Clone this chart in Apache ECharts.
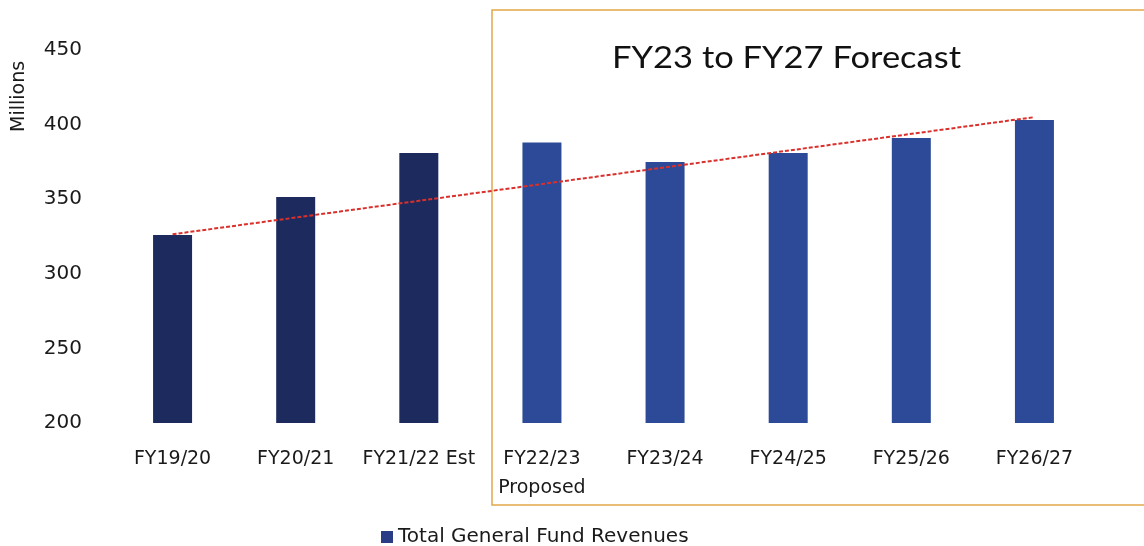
<!DOCTYPE html>
<html>
<head>
<meta charset="utf-8">
<script src="https://cdn.jsdelivr.net/npm/echarts@6/dist/echarts.min.js"></script>
<style>html,body{margin:0;padding:0;background:#fff}#c{width:1144px;height:546px}</style>
</head>
<body>
<div id="c"></div>
<script>
const categories = ['FY19/20', 'FY20/21', 'FY21/22 Est', 'FY22/23\nProposed', 'FY23/24', 'FY24/25', 'FY25/26', 'FY26/27'];
const revenues = [326, 351.5, 381, 388, 375, 381, 391, 403];
const isForecast = [false, false, false, true, true, true, true, true];
const trendValues = [326.5, null, null, null, null, null, null, 405];
const yTicks = { min: 200, max: 450, interval: 50 };
const seriesName = 'Total General Fund Revenues';
const boxTitle = 'FY23 to FY27 Forecast';
const yName = 'Millions';

const FONT = '"DejaVu Sans", "Open Sans", sans-serif';
const TITLE_FONT = 'Lato, "Open Sans", sans-serif';
const chart = echarts.init(document.getElementById('c'), null, { renderer: 'canvas' });
chart.setOption({
  backgroundColor: '#ffffff',
  animation: false,
  grid: { left: 111, right: 48, top: 50, bottom: 123 },
  legend: {
    left: 376, top: 522,
    icon: 'rect', itemWidth: 12, itemHeight: 12, itemGap: 5,
    textStyle: { fontFamily: FONT, fontSize: 20, color: '#1a1a1a' },
    data: [{ name: seriesName, itemStyle: { color: '#2a3c85' } }]
  },
  xAxis: {
    type: 'category', data: categories,
    axisLine: { show: false }, axisTick: { show: false },
    axisLabel: { fontFamily: FONT, fontSize: 19, color: '#1a1a1a', margin: 22, lineHeight: 29, interval: 0 }
  },
  yAxis: {
    type: 'value', min: yTicks.min, max: yTicks.max, interval: yTicks.interval,
    splitLine: { show: false }, axisLine: { show: false }, axisTick: { show: false },
    axisLabel: { fontFamily: FONT, fontSize: 20, color: '#1a1a1a', margin: 29 }
  },
  series: [
    {
      name: seriesName, type: 'bar', barWidth: 39,
      data: revenues.map((v, i) => ({ value: v, itemStyle: { color: isForecast[i] ? '#2c4a97' : '#1c2a5e' } })),
      z: 2
    },
    {
      name: 'trend', type: 'line', data: trendValues, connectNulls: true,
      symbol: 'none', lineStyle: { color: '#d9302c', width: 2, type: [4, 2] },
      z: 3, silent: true
    }
  ],
  graphic: [
    {
      type: 'rect', z: -1, silent: true,
      shape: { x: 492, y: 10, width: 700, height: 495 },
      style: { fill: 'none', stroke: '#e3a84a', lineWidth: 1.5 }
    },
    {
      type: 'text', x: 612, y: 58, scaleX: 1.15, silent: true,
      style: { text: boxTitle, fontFamily: TITLE_FONT, fontSize: 30, fill: '#111', textVerticalAlign: 'middle' }
    },
    {
      type: 'text', x: 10, y: 132, rotation: Math.PI / 2, silent: true,
      style: { text: yName, fontFamily: FONT, fontSize: 19, fill: '#1a1a1a' }
    }
  ]
});
</script>
</body>
</html>
